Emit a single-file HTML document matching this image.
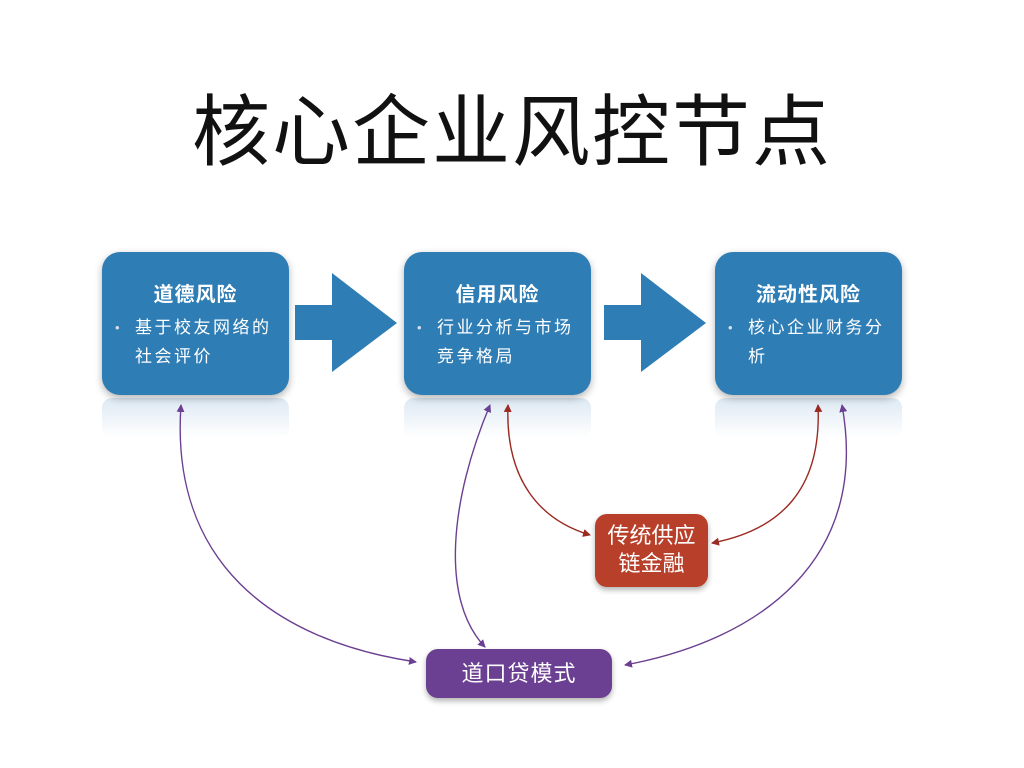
<!DOCTYPE html>
<html><head><meta charset="utf-8"><style>
body{margin:0;width:1024px;height:768px;background:#fff;position:relative;overflow:hidden;font-family:"Liberation Sans","Noto Sans CJK SC",sans-serif}
.t{position:absolute;left:0;width:1024px;top:70px;text-align:center;font-size:78px;color:#111;letter-spacing:2px}
.b{position:absolute;top:252px;width:187px;height:143px;border-radius:18px;background:#2f7db5;color:#fff;box-shadow:0 3px 8px rgba(0,0,0,.3)}
.b h{display:block;text-align:center;font-size:20px;margin-top:26px;font-weight:bold;letter-spacing:1px}
.b p{margin:6px 0 0 33px;width:142px;font-size:17px;letter-spacing:2.5px;line-height:29px;position:relative}
.b p:before{content:"•";position:absolute;left:-20px;font-size:13px;color:#dde}
.r{position:absolute;height:40px;border-radius:10px;background:linear-gradient(#cfe0ee,rgba(255,255,255,0));opacity:.7}
</style></head><body>
<div class="t">核心企业风控节点</div>
<div class="r" style="left:102px;top:398px;width:187px"></div>
<div class="r" style="left:404px;top:398px;width:187px"></div>
<div class="r" style="left:715px;top:398px;width:187px"></div>
<div class="b" style="left:102px"><h>道德风险</h><p>基于校友网络的社会评价</p></div>
<div class="b" style="left:404px"><h>信用风险</h><p>行业分析与市场竞争格局</p></div>
<div class="b" style="left:715px"><h>流动性风险</h><p>核心企业财务分析</p></div>
<div style="position:absolute;left:595px;top:514px;width:113px;height:73px;border-radius:12px;background:#b8402a;color:#fff;font-size:22px;text-align:center;line-height:28px;padding-top:8px;box-sizing:border-box;box-shadow:0 3px 6px rgba(0,0,0,.3)">传统供应<br>链金融</div>
<div style="position:absolute;left:426px;top:649px;width:186px;height:49px;border-radius:12px;background:#6b3f91;color:#fff;font-size:22px;letter-spacing:1px;text-align:center;line-height:49px;box-shadow:0 3px 6px rgba(0,0,0,.3)">道口贷模式</div>
<svg width="1024" height="768" style="position:absolute;left:0;top:0">
<defs>
<marker id="p" markerWidth="8" markerHeight="8" refX="7" refY="4" orient="auto-start-reverse" markerUnits="userSpaceOnUse"><path d="M0,0L8,4L0,8z" fill="#6b3f91"/></marker>
<marker id="rd" markerWidth="8" markerHeight="8" refX="7" refY="4" orient="auto-start-reverse" markerUnits="userSpaceOnUse"><path d="M0,0L8,4L0,8z" fill="#9b2a22"/></marker>
</defs>
<g fill="#2f7db5">
<path d="M295,305H332V273L397,323L332,372V340H295Z"/>
<path d="M604,305H641V273L706,323L641,372V340H604Z"/>
</g>
<g fill="none" stroke-width="1.4">
<path d="M181,405C170,560 270,640 416,662" stroke="#6b3f91" marker-start="url(#p)" marker-end="url(#p)"/>
<path d="M490,405C450,500 440,600 485,647" stroke="#6b3f91" marker-start="url(#p)" marker-end="url(#p)"/>
<path d="M842,405C870,560 760,640 625,665" stroke="#6b3f91" marker-start="url(#p)" marker-end="url(#p)"/>
<path d="M508,405C505,480 540,520 590,535" stroke="#9b2a22" marker-start="url(#rd)" marker-end="url(#rd)"/>
<path d="M818,405C822,490 780,530 712,543" stroke="#9b2a22" marker-start="url(#rd)" marker-end="url(#rd)"/>
</g>
</svg>
</body></html>
